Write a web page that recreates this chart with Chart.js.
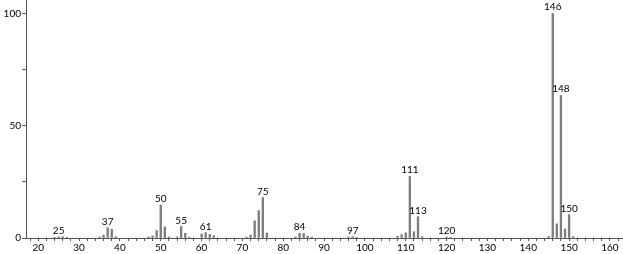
<!DOCTYPE html>
<html><head><meta charset="utf-8">
<script src="https://cdn.jsdelivr.net/npm/chart.js@4/dist/chart.umd.min.js"></script>
<style>html,body{margin:0;padding:0;background:#fff}#wrap{width:623px;height:254px}</style>
</head><body><div id="wrap"><canvas id="c"></canvas></div>
<script>
const mz = [24,25,26,27,35,36,37,38,39,47,48,49,50,51,52,54,55,56,57,60,61,62,63,71,72,73,74,75,76,83,84,85,86,87,96,97,98,108,109,110,111,112,113,114,120,121,145,146,147,148,149,150,151];
const intensity = [0.3,0.6,0.6,0.3,0.5,1.3,4.6,3.9,0.6,0.5,0.9,3.3,14.7,4.9,0.5,0.5,5.1,2.1,0.4,1.8,2.4,1.6,1.0,0.4,1.3,7.7,12.2,18.0,2.2,0.5,2.1,2.0,0.8,0.4,0.4,0.6,0.3,0.8,1.5,2.3,27.4,2.8,9.5,0.6,0.4,0.2,0.7,100,6.3,63.5,4.0,10.4,0.6];
const labelledPeaks = [25,37,50,55,61,75,84,97,111,113,120,146,148,150];
const xLabels = [20,30,40,50,60,70,80,90,100,110,120,130,140,150,160];
const yLabels = [0,50,100];

const FONT = 'Lato, "DejaVu Sans", sans-serif';
const peakLabels = {
  id: 'peakLabels',
  afterDatasetsDraw(chart) {
    const ctx = chart.ctx;
    const meta = chart.getDatasetMeta(0);
    ctx.save();
    ctx.font = '10px ' + FONT;
    ctx.fillStyle = '#000';
    ctx.textAlign = 'center';
    ctx.textBaseline = 'alphabetic';
    meta.data.forEach((el, i) => {
      if (labelledPeaks.includes(mz[i])) {
        ctx.fillText(String(mz[i]), el.x, el.y - 3);
      }
    });
    ctx.restore();
  }
};

new Chart(document.getElementById('c'), {
  type: 'bar',
  data: {
    datasets: [{
      data: mz.map((m, i) => ({x: m, y: intensity[i]})),
      backgroundColor: '#7e7e7e',
      borderWidth: 0,
      barThickness: 1.7
    }]
  },
  plugins: [peakLabels],
  options: {
    responsive: true,
    maintainAspectRatio: false,
    animation: false,
    layout: {padding: 0},
    plugins: {legend: {display: false}, tooltip: {enabled: false}},
    scales: {
      x: {
        type: 'linear',
        offset: false,
        min: 17,
        max: 163.2,
        afterFit: s => { s.height = 16; s.paddingLeft = 0; s.paddingRight = 0; },
        border: {color: '#555', width: 1},
        grid: {drawOnChartArea: false, offset: false, tickLength: 3, color: '#555'},
        afterBuildTicks: s => {
          const t = [];
          for (let v = 18; v <= 162; v += 2) t.push({value: v});
          s.ticks = t;
        },
        ticks: {
          autoSkip: false,
          maxRotation: 0,
          padding: 1,
          color: '#000',
          font: {family: FONT, size: 10},
          callback: v => xLabels.includes(v) ? String(v) : ''
        }
      },
      y: {
        min: 0,
        max: 106,
        afterFit: s => { s.width = 26; s.paddingTop = 0; s.paddingBottom = 0; },
        border: {color: '#555', width: 1},
        grid: {drawOnChartArea: false, tickLength: 4, color: '#555'},
        afterBuildTicks: s => {
          s.ticks = [0,25,50,75,100].map(v => ({value: v}));
        },
        ticks: {
          autoSkip: false,
          padding: 1,
          color: '#000',
          font: {family: FONT, size: 10},
          callback: v => yLabels.includes(v) ? String(v) : ''
        }
      }
    }
  }
});
</script></body></html>
